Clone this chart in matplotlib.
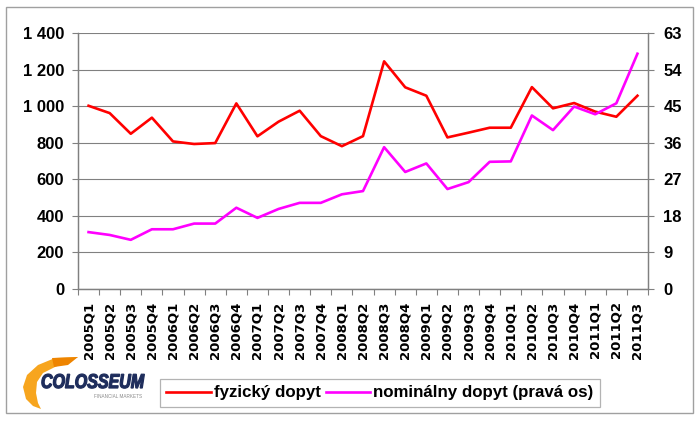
"""Physical vs nominal demand chart (quarterly), two y axes."""

import matplotlib
import numpy as np

matplotlib.use("Agg")
import matplotlib.pyplot as plt  # noqa: E402
from matplotlib.font_manager import FontProperties  # noqa: E402
from matplotlib.patches import PathPatch, Rectangle  # noqa: E402
from matplotlib.textpath import TextPath  # noqa: E402
from matplotlib.ticker import FuncFormatter, FixedLocator  # noqa: E402
from matplotlib.transforms import Affine2D  # noqa: E402

quarters = [
    "2005Q1", "2005Q2", "2005Q3", "2005Q4",
    "2006Q1", "2006Q2", "2006Q3", "2006Q4",
    "2007Q1", "2007Q2", "2007Q3", "2007Q4",
    "2008Q1", "2008Q2", "2008Q3", "2008Q4",
    "2009Q1", "2009Q2", "2009Q3", "2009Q4",
    "2010Q1", "2010Q2", "2010Q3", "2010Q4",
    "2011Q1", "2011Q2", "2011Q3",
]
# left axis
physical = [1002, 962, 849, 937, 807, 793, 798, 1015, 835, 915, 975, 836,
            781, 836, 1245, 1103, 1057, 829, 855, 882, 882, 1104, 988,
            1017, 970, 942, 1057]
# right axis
nominal = [14.0, 13.3, 12.1, 14.7, 14.7, 16.1, 16.1, 20.0, 17.5, 19.7,
           21.2, 21.2, 23.3, 24.1, 34.9, 28.8, 30.9, 24.6, 26.3, 31.3,
           31.4, 42.7, 39.1, 44.9, 43.0, 45.7, 57.9]
left_ticks = [0, 200, 400, 600, 800, 1000, 1200, 1400]
right_ticks = [0, 9, 18, 27, 36, 45, 54, 63]

RED = "#ff0000"
MAGENTA = "#ff00ff"
GRID = "#808080"
LBL = dict(fontfamily="Liberation Sans", fontweight="bold", fontsize=12)


def draw_logo(fig, W, H):
    # 1 data unit = 1 pixel; y measured up from image row 415
    lax = fig.add_axes([10 / W, (H - 415) / H, 140 / W, 60 / H])
    lax.set_xlim(0, 140)
    lax.set_ylim(0, 60)
    lax.axis("off")
    outer = [(68, 58), (45, 57), (28, 50), (17, 40), (13, 28), (16, 16),
             (23, 9), (31, 6)]
    inner = [(31, 6), (28, 12), (26, 22), (27, 33), (33, 42), (45, 48),
             (68, 58)]
    pts = np.array(outer + inner)
    lax.fill(pts[:, 0], pts[:, 1], color="#f7a51e", lw=0)
    lax.fill([42, 68, 58, 44], [57, 58, 50, 48], color="#ee8400", lw=0)

    prop = FontProperties(family="Liberation Sans", weight="bold",
                          style="italic")
    tp = TextPath((0, 0), "COLOSSEUM", size=20, prop=prop)
    tr = Affine2D().scale(0.8, 1.0).translate(31, 27)
    lax.add_patch(PathPatch(tr.transform_path(tp), facecolor="#1e2d5c",
                            edgecolor="#1e2d5c", lw=0.9))
    lax.text(108, 18, "FINANCIAL MARKETS", ha="center", va="center",
             color="#8a8a8a", fontsize=3.3, fontfamily="Liberation Sans")


def main() -> None:
    fig = plt.figure(figsize=(7, 4.21), dpi=100)
    W, H = 700, 421
    ax = fig.add_axes([78 / W, 132 / H, 570 / W, 256 / H])
    ax2 = ax.twinx()

    x = np.arange(len(quarters))
    ax.plot(x, physical, color=RED, lw=1.9, label="fyzický dopyt", zorder=3)
    ax2.plot(x, nominal, color=MAGENTA, lw=1.9,
             label="nominálny dopyt (pravá os)", zorder=3)

    ax.set_xlim(-0.5, len(quarters) - 0.5)
    ax.set_ylim(0, 1400)
    ax2.set_ylim(0, 63)
    ax.set_yticks(left_ticks)
    ax2.set_yticks(right_ticks)
    ax.yaxis.set_major_formatter(
        FuncFormatter(lambda v, _: f"{int(v):,}".replace(",", " ")))
    ax.grid(axis="y", color=GRID, lw=0.8)
    ax.set_axisbelow(True)

    # category ticks between points, labels centred
    ax.xaxis.set_major_locator(FixedLocator(np.arange(-0.5, len(quarters))))
    ax.set_xticklabels([""] * (len(quarters) + 1))
    ax.set_xticks(x, quarters, minor=True)
    ax.tick_params(axis="x", which="major", length=4, color=GRID)
    ax.tick_params(axis="x", which="minor", length=0, pad=9, rotation=90)
    for t in ax.get_xticklabels(minor=True):
        t.set_fontfamily("DejaVu Sans")
        t.set_fontweight("bold")
        t.set_fontsize(9.5)

    ax.tick_params(axis="y", length=4, pad=6, color=GRID)
    ax2.tick_params(axis="y", length=4, pad=7, color=GRID)
    for t in ax.get_yticklabels() + ax2.get_yticklabels():
        t.set(**LBL)

    for a in (ax, ax2):
        a.spines["top"].set_visible(False)
        for s in ("left", "right", "bottom"):
            a.spines[s].set_color(GRID)
            a.spines[s].set_linewidth(0.9)

    # legend at bottom
    h1, l1 = ax.get_legend_handles_labels()
    h2, l2 = ax2.get_legend_handles_labels()
    leg = fig.legend(h1 + h2, l1 + l2, loc="center",
                     bbox_to_anchor=(380 / W, (H - 393) / H), ncol=2,
                     frameon=True, fancybox=False, edgecolor="#a0a0a0",
                     handlelength=2.6, handletextpad=0.2, columnspacing=0.3,
                     borderpad=0.4, prop=dict(family="Liberation Sans",
                                              weight="bold", size=12.2))
    leg.get_frame().set_linewidth(0.9)

    draw_logo(fig, W, H)

    # outer frame
    fig.patches.append(Rectangle((6 / W, (H - 413) / H), 687 / W, 406 / H,
                                 transform=fig.transFigure, fill=False,
                                 edgecolor="#a0a0a0", lw=1))

    fig.savefig("out.png", dpi=100)
    plt.close(fig)


if __name__ == "__main__":
    main()
